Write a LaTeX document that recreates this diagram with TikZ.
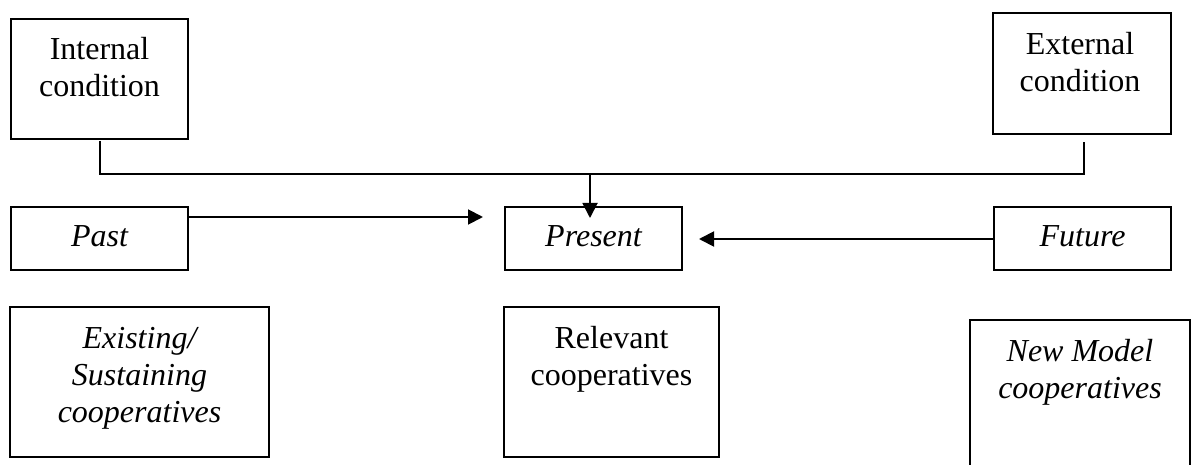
\documentclass[tikz,border=0pt]{standalone}
\usepackage{fontspec}
\setmainfont{Liberation Serif}
\usetikzlibrary{arrows.meta}
\begin{document}
\begin{tikzpicture}[x=1pt,y=-1pt,
  box/.style={draw, line width=1.9pt, inner sep=0pt},
  txt/.style={align=center, inner sep=0pt, anchor=base, font=\fontsize{32}{37}\selectfont},
  conn/.style={line width=1.9pt},
  arr/.style={line width=1.9pt, -{Triangle[length=15pt,width=15pt]}}]
\useasboundingbox (0,0) rectangle (1191,465);
\clip (0,0) rectangle (1191,465);
% boxes
\node[box, minimum width=177pt, minimum height=120pt] (int) at (99.5,79) {};
\node[box, minimum width=178pt, minimum height=121pt] (ext) at (1082,73.5) {};
\node[box, minimum width=177pt, minimum height=63pt] (past) at (99.5,238.5) {};
\node[box, minimum width=177pt, minimum height=63pt] (pres) at (593.5,238.5) {};
\node[box, minimum width=177pt, minimum height=63pt] (fut) at (1082.5,238.5) {};
\node[box, minimum width=259pt, minimum height=150pt] (exist) at (139.5,382) {};
\node[box, minimum width=215pt, minimum height=150pt] (rel) at (611.5,382) {};
\node[box, minimum width=220pt, minimum height=170pt] (new) at (1080,405) {};
% texts
\node[txt] (tint) at (99.5,97) {Internal\\condition};
\node[txt] (text) at (1080,92) {External\\condition};
\node[txt] (tpast) at (99.5,247) {\itshape Past};
\node[txt] (tpres) at (593.5,247) {\itshape Present};
\node[txt] (tfut) at (1082.5,247) {\itshape Future};
\node[txt] (texist) at (139.5,422) {\itshape Existing/\\\itshape Sustaining\\\itshape cooperatives};
\node[txt] (trel) at (611.5,385) {Relevant\\cooperatives};
\node[txt] (tnew) at (1080,398) {\itshape New Model\\\itshape cooperatives};
% connectors
\coordinate (jl) at (100,174);
\coordinate (jr) at (1084,174);
\coordinate (jm) at (590,174);
\coordinate (pt) at (590,218);
\coordinate (pastend) at (483,217);
\coordinate (futend) at (699,239);
\draw[conn] (jl |- 0,141) -- (jl) -- (jr) -- (jr |- 0,142);
\draw[arr] (jm) -- (pt);
\draw[arr] (past.east |- 0,217) -- (pastend);
\draw[arr] (fut.west |- 0,239) -- (futend);
\end{tikzpicture}
\end{document}
